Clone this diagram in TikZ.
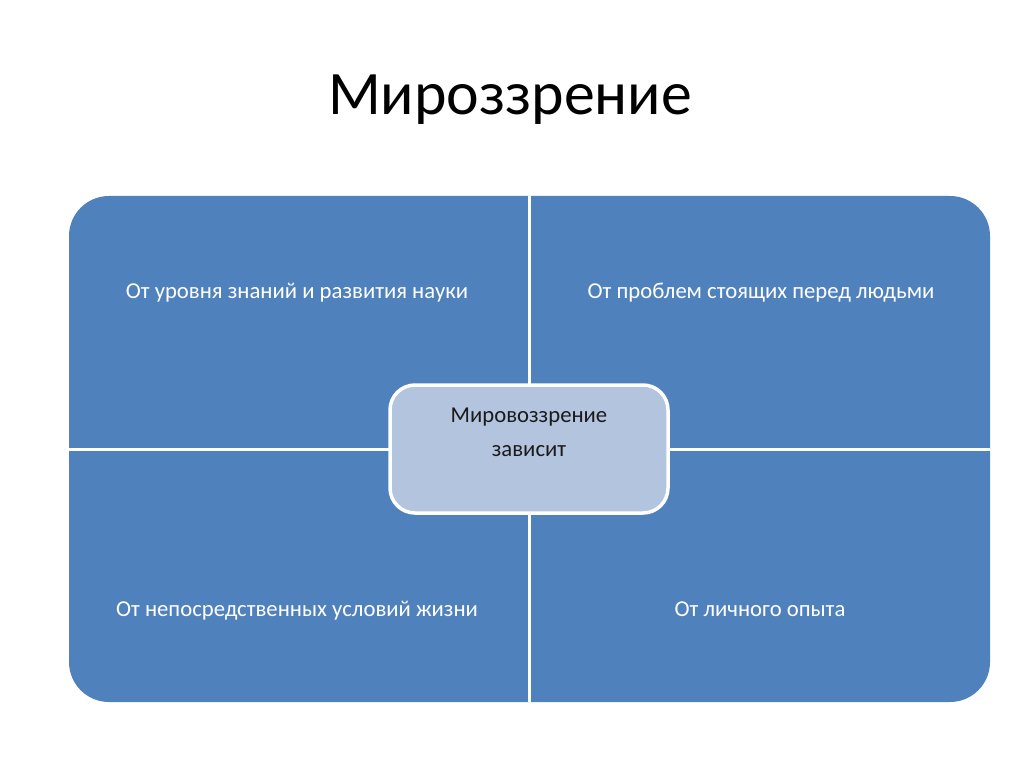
\documentclass[tikz,border=0pt]{standalone}
\usepackage{fontspec}
\setmainfont{Carlito}
\definecolor{quadblue}{HTML}{4F81BD}
\definecolor{centerfill}{HTML}{B3C4DE}
\definecolor{centertext}{HTML}{1A1A1A}
\begin{document}
\begin{tikzpicture}[x=1pt,y=1pt,
  qtext/.style={text=white,font=\fontsize{22.7}{26}\selectfont,anchor=base,inner sep=0pt},
  divider/.style={draw=white,line width=3pt},
  centerbox/.style={draw=white,line width=3.5pt,fill=centerfill,rounded corners=25pt}]
\useasboundingbox (0,0) rectangle (1024,-767);
% title
\node[anchor=base,inner sep=0pt,font=\fontsize{61.8}{68}\selectfont] (title) at (510,-115) {Мироззрение};
% outer block
\fill[quadblue,rounded corners=40pt] (69,-196) rectangle (990,-702);
\coordinate (vt) at (529,-196);
\coordinate (vb) at (529,-702);
\coordinate (hl) at (69,-449);
\coordinate (hr) at (990,-449);
\draw[divider] (vt) -- (vb);
\draw[divider] (hl) -- (hr);
% quadrant texts
\node[qtext] (tl) at (297,-298) {От уровня знаний и развития науки};
\node[qtext] (tr) at (761,-298) {От проблем стоящих перед людьми};
\node[qtext] (bl) at (297,-616) {От непосредственных условий жизни};
\node[qtext] (br) at (760,-616) {От личного опыта};
% center
\path[centerbox] (390,-385) rectangle (668,-513);
\node[qtext,text=centertext] (c1) at (529,-422) {Мировоззрение};
\node[qtext,text=centertext] (c2) at (529,-456) {зависит};
\end{tikzpicture}
\end{document}
